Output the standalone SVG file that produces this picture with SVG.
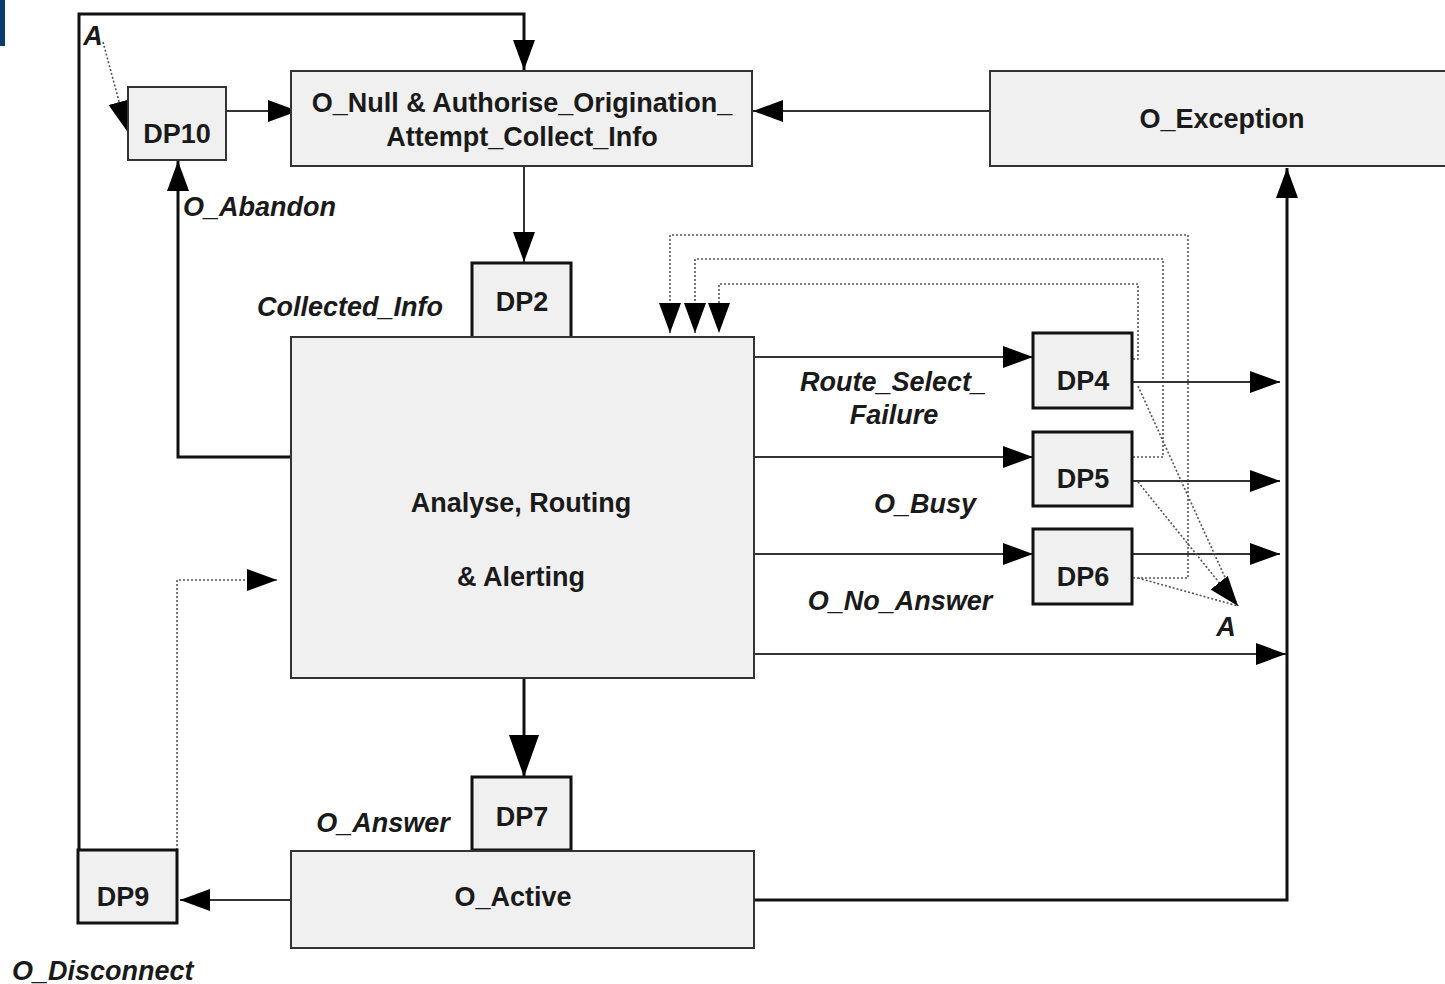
<svg xmlns="http://www.w3.org/2000/svg" width="1445" height="984" viewBox="0 0 1445 984">
<style>
.box{fill:#f0f0f0;stroke:#333;stroke-width:2}
.dp{fill:#f0f0f0;stroke:#111;stroke-width:3}
.t{font-family:"Liberation Sans",Arial,sans-serif;font-weight:bold;font-size:27px;fill:#1a1a1a;text-anchor:middle}
.i{font-family:"Liberation Sans",Arial,sans-serif;font-weight:bold;font-style:italic;font-size:27px;fill:#1a1a1a}
.c{fill:none;stroke:#333;stroke-width:2}
.k{fill:none;stroke:#111;stroke-width:3}
.d{fill:none;stroke:#555;stroke-width:1.6;stroke-dasharray:2 2}
</style>
<defs>
<marker id="ah" markerUnits="userSpaceOnUse" markerWidth="32" markerHeight="24" refX="30" refY="11" orient="auto"><path d="M0,0 L30,11 L0,22 z" fill="#000"/></marker>
<marker id="ab" markerUnits="userSpaceOnUse" markerWidth="44" markerHeight="32" refX="42" refY="15" orient="auto"><path d="M0,0 L42,15 L0,30 z" fill="#000"/></marker>
</defs>
<rect x="0" y="0" width="5" height="46" fill="#0a3a6e"/>
<g id="connectors">
<polyline class="k" points="79,850 79,14 524,14 524,70" marker-end="url(#ah)"/>
<line class="c" x1="226" y1="111" x2="298" y2="111" marker-end="url(#ah)"/>
<line class="c" x1="990" y1="111" x2="753" y2="111" stroke="#777" marker-end="url(#ah)"/>
<line class="c" x1="524" y1="166" x2="524" y2="262" marker-end="url(#ah)"/>
<polyline class="k" points="291,457 178,457 178,161" marker-end="url(#ah)"/>
<line class="d" x1="103" y1="42" x2="127" y2="131" marker-end="url(#ah)"/>
<polyline class="d" points="1133,578 1188,578 1188,235 670,235 670,333" marker-end="url(#ah)"/>
<polyline class="d" points="1133,457 1163,457 1163,259 695,259 695,333" marker-end="url(#ah)"/>
<polyline class="d" points="1133,359 1138,359 1138,284 719,284 719,333" marker-end="url(#ah)"/>
<line class="c" x1="754" y1="357" x2="1033" y2="357" marker-end="url(#ah)"/>
<line class="c" x1="754" y1="457" x2="1033" y2="457" marker-end="url(#ah)"/>
<line class="c" x1="754" y1="554" x2="1033" y2="554" marker-end="url(#ah)"/>
<line class="c" x1="1133" y1="382" x2="1280" y2="382" marker-end="url(#ah)"/>
<line class="c" x1="1133" y1="481" x2="1280" y2="481" marker-end="url(#ah)"/>
<line class="c" x1="1133" y1="554" x2="1280" y2="554" marker-end="url(#ah)"/>
<line class="c" x1="754" y1="654" x2="1286" y2="654" marker-end="url(#ah)"/>
<line class="d" x1="1138" y1="386" x2="1238" y2="606"/>
<line class="d" x1="1138" y1="482" x2="1238" y2="606" marker-end="url(#ah)"/>
<line class="d" x1="1138" y1="578" x2="1238" y2="606"/>
<polyline class="k" points="754,900 1287,900 1287,168" marker-end="url(#ah)"/>
<line class="k" x1="524" y1="678" x2="524" y2="777" marker-end="url(#ab)"/>
<line class="c" x1="291" y1="900" x2="180" y2="900" marker-end="url(#ah)"/>
<polyline class="d" points="177,850 177,580 277,580" marker-end="url(#ah)"/>
</g>
<g id="DP10"><rect class="box" x="128" y="87" width="98" height="73"/><text class="t" x="177" y="143">DP10</text></g>
<g id="ONull"><rect class="box" x="291" y="71" width="461" height="95"/><text class="t" x="522" y="112">O_Null &amp; Authorise_Origination_</text><text class="t" x="522" y="146">Attempt_Collect_Info</text></g>
<g id="OException"><rect class="box" x="990" y="71" width="460" height="95"/><text class="t" x="1222" y="128">O_Exception</text></g>
<g id="DP2"><rect class="dp" x="472" y="263" width="99" height="75"/><text class="t" x="522" y="311">DP2</text></g>
<g id="Analyse"><rect class="box" x="291" y="337" width="463" height="341"/><text class="t" x="521" y="512">Analyse, Routing</text><text class="t" x="521" y="586">&amp; Alerting</text></g>
<g id="DP4"><rect class="dp" x="1033" y="333" width="99" height="75"/><text class="t" x="1083" y="390">DP4</text></g>
<g id="DP5"><rect class="dp" x="1033" y="432" width="99" height="74"/><text class="t" x="1083" y="488">DP5</text></g>
<g id="DP6"><rect class="dp" x="1033" y="529" width="99" height="75"/><text class="t" x="1083" y="586">DP6</text></g>
<g id="DP7"><rect class="dp" x="472" y="777" width="99" height="73"/><text class="t" x="522" y="826">DP7</text></g>
<g id="OActive"><rect class="box" x="291" y="851" width="463" height="97"/><text class="t" x="513" y="906">O_Active</text></g>
<g id="DP9"><rect class="dp" x="78" y="850" width="99" height="73"/><text class="t" x="123" y="906">DP9</text></g>
<g id="labels">
<text class="i" x="93" y="45" text-anchor="middle">A</text>
<text class="i" x="183" y="216">O_Abandon</text>
<text class="i" x="257" y="316">Collected_Info</text>
<text class="i" x="893" y="391" text-anchor="middle">Route_Select_</text>
<text class="i" x="894" y="424" text-anchor="middle">Failure</text>
<text class="i" x="925" y="513" text-anchor="middle">O_Busy</text>
<text class="i" x="900" y="610" text-anchor="middle">O_No_Answer</text>
<text class="i" x="1226" y="636" text-anchor="middle">A</text>
<text class="i" x="383" y="832" text-anchor="middle">O_Answer</text>
<text class="i" x="12" y="980">O_Disconnect</text>
</g>
</svg>
